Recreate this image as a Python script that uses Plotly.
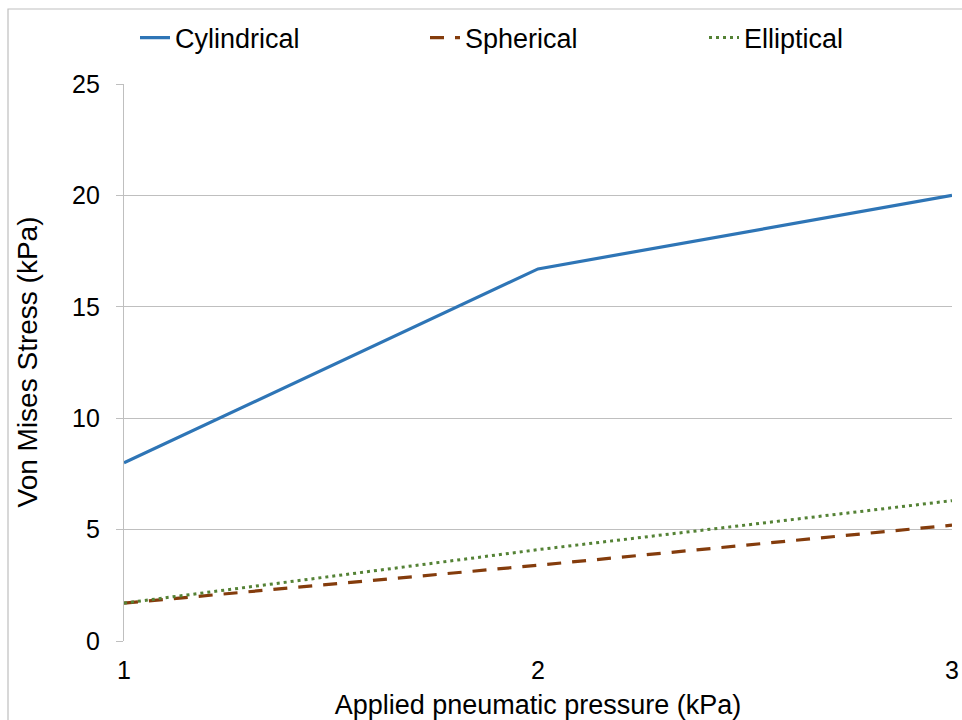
import plotly.graph_objects as go

# Applied pneumatic pressure (kPa)
pressure = [1, 2, 3]

# Von Mises stress (kPa) per chamber geometry
cylindrical = [8.0, 16.7, 20.0]
spherical = [1.7, 3.4, 5.2]
elliptical = [1.7, 4.1, 6.3]

y_ticks = [0, 5, 10, 15, 20, 25]

FONT = "Liberation Sans, Arial, sans-serif"
W, H = 962, 720
L, R, T, B = 124, 10, 84, 79
PW, PH = W - L - R, H - T - B

fig = go.Figure()
fig.add_trace(go.Scatter(
    x=pressure, y=cylindrical, mode="lines", name="Cylindrical",
    line=dict(color="#2E75B6", width=3.2), legend="legend",
))
fig.add_trace(go.Scatter(
    x=pressure, y=spherical, mode="lines", name="Spherical",
    line=dict(color="#843C0C", width=3.2, dash="14px,11px"), legend="legend2",
))
fig.add_trace(go.Scatter(
    x=pressure, y=elliptical, mode="lines", name="Elliptical",
    line=dict(color="#548235", width=3, dash="3px,4px"), legend="legend3",
))

# light frame around the chart area
fig.add_shape(
    type="rect", xref="paper", yref="paper",
    x0=(8 - L) / PW, x1=(975 - L) / PW,
    y0=(H - B - 730) / PH, y1=(H - B - 9) / PH,
    line=dict(color="#BFBFBF", width=1.2), fillcolor="rgba(0,0,0,0)",
    layer="below",
)

# vertical axis title
fig.add_annotation(
    text="Von Mises Stress (kPa)", textangle=-90,
    xref="paper", yref="paper", x=(27 - L) / PW, y=0.5,
    xanchor="center", yanchor="middle", showarrow=False,
    font=dict(family=FONT, size=28, color="#000000"),
)


def legend_at(left_px):
    return dict(
        orientation="h", xref="container", yref="container",
        x=left_px / W, y=1 - 38 / H, xanchor="left", yanchor="middle",
        font=dict(family=FONT, size=27, color="#000000"),
        bgcolor="rgba(0,0,0,0)", itemwidth=30,
    )


fig.update_layout(
    width=W, height=H,
    margin=dict(l=L, r=R, t=T, b=B, autoexpand=False),
    paper_bgcolor="white", plot_bgcolor="white",
    font=dict(family=FONT, size=25, color="#000000"),
    showlegend=True,
    legend=legend_at(135),
    legend2=legend_at(425),
    legend3=legend_at(704),
    xaxis=dict(
        range=[1, 3], tickvals=pressure, ticktext=[str(p) for p in pressure],
        showgrid=False, zeroline=False, showline=False, ticks="",
        ticklabelstandoff=12, automargin=False,
        title=dict(text="Applied pneumatic pressure (kPa)", standoff=12,
                   font=dict(family=FONT, size=27)),
        tickfont=dict(family=FONT, size=25),
    ),
    yaxis=dict(
        range=[0, 25], tickvals=y_ticks, automargin=False,
        showgrid=True, gridcolor="#BFBFBF", gridwidth=1.2,
        zeroline=False, showline=True, linecolor="#BFBFBF", linewidth=1.2,
        ticks="outside", ticklen=7, tickcolor="#BFBFBF", tickwidth=1.2,
        ticklabelstandoff=11,
        tickfont=dict(family=FONT, size=25),
    ),
)

fig.write_html("out.html")
